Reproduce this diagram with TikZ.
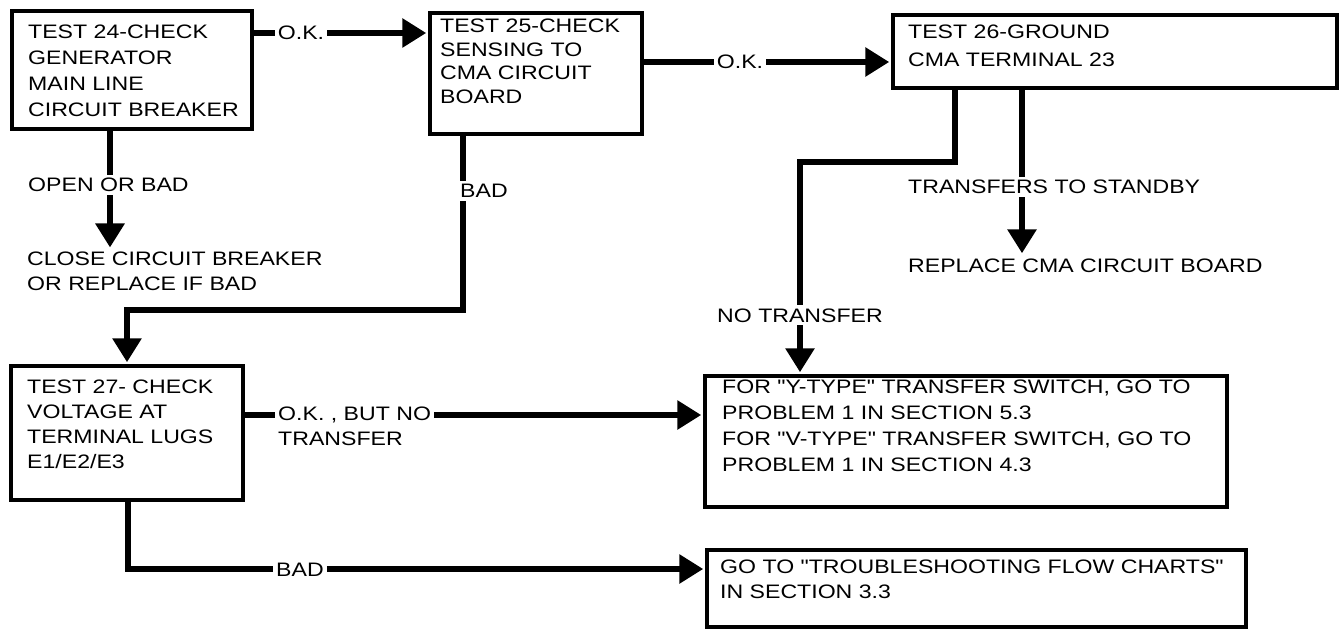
\documentclass[tikz,border=0pt]{standalone}
\usepackage{fontspec}
\setmainfont{Liberation Sans}[FakeStretch=1.185, Ligatures=TeXOff]
\usetikzlibrary{arrows.meta}
\begin{document}
\begin{tikzpicture}[x=1pt,y=-1pt,
  box/.style={draw, line width=4.5pt, inner sep=0pt},
  txt/.style={anchor=north west, inner sep=0pt, align=left, font=\fontsize{19.5}{#1}\selectfont},
  lab/.style={inner sep=3pt, text height=14pt, text depth=0pt, font=\fontsize{19.5}{25}\selectfont},
  labm/.style={anchor=north west, inner sep=3pt, align=left, font=\fontsize{19.5}{25}\selectfont},
  conn/.style={line width=6pt},
  arr/.style={line width=6pt, shorten >=1.5pt, -{Triangle[length=24pt,width=28pt]}}]
\useasboundingbox (0,0) rectangle (1341,631);

% boxes
\node[box, minimum width=240pt, minimum height=118pt] (t24) at (132,70) {};
\node[box, minimum width=212pt, minimum height=121pt] (t25) at (536,73.5) {};
\node[box, minimum width=444pt, minimum height=73pt] (t26) at (1115,51.5) {};
\node[box, minimum width=232pt, minimum height=134pt] (t27) at (127,433) {};
\node[box, minimum width=522pt, minimum height=131pt] (tY) at (966,441.5) {};
\node[box, minimum width=539pt, minimum height=77pt] (tG) at (976.5,588.5) {};

% box texts
\node[txt=26] (x24) at (28,25) {TEST 24-CHECK\\GENERATOR\\MAIN LINE\\CIRCUIT BREAKER};
\node[txt=23.5] (x25) at (440,19) {TEST 25-CHECK\\SENSING TO\\CMA CIRCUIT\\BOARD};
\node[txt=28] (x26) at (908,25) {TEST 26-GROUND\\CMA TERMINAL 23};
\node[txt=25] (x27) at (27,380) {TEST 27- CHECK\\VOLTAGE AT\\TERMINAL LUGS\\E1/E2/E3};
\node[txt=26] (xY) at (722,380) {FOR "Y-TYPE" TRANSFER SWITCH, GO TO\\PROBLEM 1 IN SECTION 5.3\\FOR "V-TYPE" TRANSFER SWITCH, GO TO\\PROBLEM 1 IN SECTION 4.3};
\node[txt=25] (xG) at (720,560) {GO TO "TROUBLESHOOTING FLOW CHARTS"\\IN SECTION 3.3};

% labels
\node[lab] (ok1) at (301,33) {O.K.};
\node[lab] (ok2) at (740,62) {O.K.};
\node[lab, anchor=west] (ob) at (25,185) {OPEN OR BAD};
\node[labm] (cl) at (24,249) {CLOSE CIRCUIT BREAKER\\OR REPLACE IF BAD};
\node[lab, anchor=west] (b1) at (457,191) {BAD};
\node[lab] (nt) at (800,315) {NO TRANSFER};
\node[lab, anchor=west] (ts) at (905,187) {TRANSFERS TO STANDBY};
\node[lab, anchor=west] (rp) at (905,265) {REPLACE CMA CIRCUIT BOARD};
\node[labm] (okb) at (275,404) {O.K. , BUT NO\\TRANSFER};
\node[lab] (b2) at (300,569) {BAD};

% junctions
\coordinate (j1) at (955,162);
\coordinate (j2) at (800,162);
\coordinate (j3) at (1022,0);
\coordinate (j4) at (110,0);
\coordinate (j5) at (463,310);
\coordinate (j6) at (127,310);
\coordinate (j7) at (0,415);
\coordinate (j8) at (128,569);

% connectors
\draw[conn] (t24.east |- ok1) -- (ok1.west);
\draw[arr] (ok1.east) -- (t25.west |- ok1);
\draw[conn] (t25.east |- ok2) -- (ok2.west);
\draw[arr] (ok2.east) -- (t26.west |- ok2);
\draw[conn] (t26.south -| j1) -- (j1) -- (j2) -- (nt.north -| j2);
\draw[arr] (nt.south -| j2) -- (tY.north -| j2);
\draw[conn] (t26.south -| j3) -- (ts.north -| j3);
\draw[arr] (ts.south -| j3) -- (rp.north -| j3);
\draw[conn] (t24.south -| j4) -- (ob.north -| j4);
\draw[arr] (ob.south -| j4) -- (cl.north -| j4);
\draw[conn] (t25.south -| j5) -- (b1.north -| j5);
\draw[arr] (b1.south -| j5) -- (j5) -- (j6) -- (t27.north -| j6);
\draw[conn] (t27.east |- j7) -- (okb.west |- j7);
\draw[arr] (okb.east |- j7) -- (tY.west |- j7);
\draw[conn] (t27.south -| j8) -- (j8) -- (b2.west);
\draw[arr] (b2.east) -- (tG.west |- b2);
\end{tikzpicture}
\end{document}
